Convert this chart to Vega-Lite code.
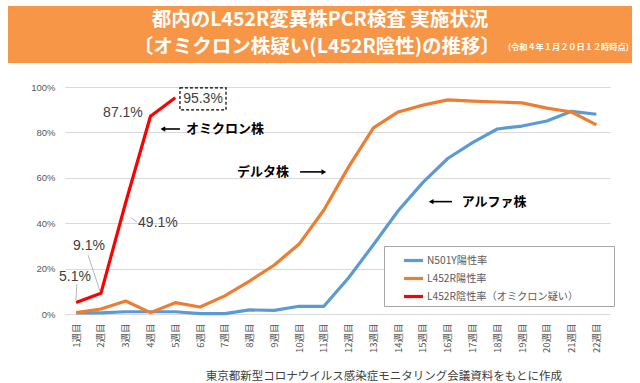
{
  "$schema": "https://vega.github.io/schema/vega-lite/v6.json",
  "padding": {"left": 8, "top": 5, "right": 0, "bottom": 0},
  "background": "white",
  "width": 545,
  "height": 227,
  "config": {
    "font": "Noto Sans CJK JP",
    "view": {"stroke": null},
    "axis": {"labelOverlap": false}
  },
  "title": {
    "text": "東京都新型コロナウイルス感染症モニタリング会議資料をもとに作成",
    "orient": "bottom",
    "anchor": "end",
    "frame": "group",
    "dx": -48,
    "offset": 18,
    "fontSize": 11.5,
    "fontWeight": "normal",
    "color": "#404040",
    "font": "Noto Sans CJK JP"
  },
  "datasets": {
    "banner": [{"week": -1.75, "week2": 23.44, "value": 135.7, "value2": 110.6}],
    "bannerText": [
      {"week": 10.845, "value": 129.5, "text": "都内のL452R変異株PCR検査 実施状況", "kind": "big"},
      {"week": 10.72, "value": 117.7, "text": "〔オミクロン株疑い(L452R陰性)の推移〕", "kind": "big"},
      {"week": 18.43, "value": 117.2, "text": "(令和４年１月２０日１２時時点)", "kind": "small"}
    ],
    "series": [
      {"week": 1, "series": "N501Y陽性率", "value": 0.5},
      {"week": 2, "series": "N501Y陽性率", "value": 0.5},
      {"week": 3, "series": "N501Y陽性率", "value": 1},
      {"week": 4, "series": "N501Y陽性率", "value": 1},
      {"week": 5, "series": "N501Y陽性率", "value": 1},
      {"week": 6, "series": "N501Y陽性率", "value": 0.2},
      {"week": 7, "series": "N501Y陽性率", "value": 0.2},
      {"week": 8, "series": "N501Y陽性率", "value": 1.8},
      {"week": 9, "series": "N501Y陽性率", "value": 1.6},
      {"week": 10, "series": "N501Y陽性率", "value": 3.4},
      {"week": 11, "series": "N501Y陽性率", "value": 3.4},
      {"week": 12, "series": "N501Y陽性率", "value": 16},
      {"week": 13, "series": "N501Y陽性率", "value": 30.5},
      {"week": 14, "series": "N501Y陽性率", "value": 45.5},
      {"week": 15, "series": "N501Y陽性率", "value": 58},
      {"week": 16, "series": "N501Y陽性率", "value": 68.5},
      {"week": 17, "series": "N501Y陽性率", "value": 75.5},
      {"week": 18, "series": "N501Y陽性率", "value": 81.5},
      {"week": 19, "series": "N501Y陽性率", "value": 82.8},
      {"week": 20, "series": "N501Y陽性率", "value": 85},
      {"week": 21, "series": "N501Y陽性率", "value": 89.3},
      {"week": 22, "series": "N501Y陽性率", "value": 88},
      {"week": 1, "series": "L452R陽性率", "value": 0.6},
      {"week": 2, "series": "L452R陽性率", "value": 2.2},
      {"week": 3, "series": "L452R陽性率", "value": 5.7},
      {"week": 4, "series": "L452R陽性率", "value": 0.6},
      {"week": 5, "series": "L452R陽性率", "value": 5},
      {"week": 6, "series": "L452R陽性率", "value": 3.1},
      {"week": 7, "series": "L452R陽性率", "value": 8},
      {"week": 8, "series": "L452R陽性率", "value": 14.5},
      {"week": 9, "series": "L452R陽性率", "value": 21.6},
      {"week": 10, "series": "L452R陽性率", "value": 30.8},
      {"week": 11, "series": "L452R陽性率", "value": 45.8},
      {"week": 12, "series": "L452R陽性率", "value": 64.8},
      {"week": 13, "series": "L452R陽性率", "value": 82},
      {"week": 14, "series": "L452R陽性率", "value": 89},
      {"week": 15, "series": "L452R陽性率", "value": 92},
      {"week": 16, "series": "L452R陽性率", "value": 94.3},
      {"week": 17, "series": "L452R陽性率", "value": 93.8},
      {"week": 18, "series": "L452R陽性率", "value": 93.4},
      {"week": 19, "series": "L452R陽性率", "value": 93},
      {"week": 20, "series": "L452R陽性率", "value": 90.7},
      {"week": 21, "series": "L452R陽性率", "value": 89},
      {"week": 22, "series": "L452R陽性率", "value": 83.3},
      {"week": 1, "series": "L452R陰性率（オミクロン疑い）", "value": 5.1},
      {"week": 2, "series": "L452R陰性率（オミクロン疑い）", "value": 9.1},
      {"week": 3, "series": "L452R陰性率（オミクロン疑い）", "value": 49.1},
      {"week": 4, "series": "L452R陰性率（オミクロン疑い）", "value": 87.1},
      {"week": 5, "series": "L452R陰性率（オミクロン疑い）", "value": 95.3}
    ],
    "valueLabels": [
      {"week": 0.95, "value": 16.3, "text": "5.1%"},
      {"week": 1.52, "value": 30.0, "text": "9.1%"},
      {"week": 4.3, "value": 40.1, "text": "49.1%"},
      {"week": 2.89, "value": 88.5, "text": "87.1%"},
      {"week": 6.12, "value": 94.7, "text": "95.3%"}
    ],
    "leaders": [
      {"week": 1.03, "value": 13.2, "week2": 0.99, "value2": 5.9},
      {"week": 1.48, "value": 26.0, "week2": 1.96, "value2": 10.1},
      {"week": 3.46, "value": 40.5, "week2": 3.2, "value2": 42.5}
    ],
    "box": [{"week": 5.19, "week2": 7.05, "value": 99.6, "value2": 89.9}],
    "strainLabels": [
      {"week": 7.01, "value": 81.5, "text": "オミクロン株"},
      {"week": 8.54, "value": 62.6, "text": "デルタ株"},
      {"week": 17.87, "value": 49.5, "text": "アルファ株"}
    ],
    "arrows": [
      {"week": 4.5, "week2": 5.19, "value": 81.5},
      {"week": 10.04, "week2": 11.0, "value": 62.6},
      {"week": 15.33, "week2": 16.17, "value": 49.5}
    ],
    "arrowHeads": [
      {"week": 4.5, "value": 81.5, "dir": "left"},
      {"week": 11.0, "value": 62.6, "dir": "right"},
      {"week": 15.33, "value": 49.5, "dir": "left"}
    ]
  },
  "encoding": {
    "x": {
      "field": "week", "type": "quantitative", "title": null,
      "scale": {"domain": [0.55, 22.55], "nice": false, "zero": false},
      "axis": {
        "values": [1, 2, 3, 4, 5, 6, 7, 8, 9, 10, 11, 12, 13, 14, 15, 16, 17, 18, 19, 20, 21, 22],
        "labelExpr": "datum.value + '週目'",
        "labelAngle": -90,
        "labelFontSize": 9.5,
        "labelColor": "#595959",
        "labelFont": "Noto Sans CJK JP",
        "labelPadding": 9,
        "labelOverlap": false,
        "labelFlush": false,
        "labelBound": false,
        "grid": false,
        "ticks": false,
        "domain": false
      }
    },
    "y": {
      "field": "value", "type": "quantitative", "title": null,
      "scale": {"domain": [0, 100], "nice": false},
      "axis": {
        "values": [0, 20, 40, 60, 80, 100],
        "labelExpr": "datum.value + '%'",
        "labelFontSize": 9.5,
        "labelColor": "#595959",
        "labelFont": "Liberation Sans",
        "labelPadding": 10,
        "grid": true,
        "gridColor": "#D9D9D9",
        "gridWidth": 1,
        "ticks": false,
        "domain": false
      }
    }
  },
  "layer": [
    {
      "data": {"name": "banner"},
      "mark": {"type": "rect", "fill": "#F79646", "stroke": null},
      "encoding": {"x2": {"field": "week2"}, "y2": {"field": "value2"}}
    },
    {
      "data": {"name": "bannerText"},
      "transform": [{"filter": "datum.kind === 'big'"}],
      "mark": {"type": "text", "color": "white", "fontWeight": "bold", "fontSize": 19.5, "align": "center", "baseline": "middle"},
      "encoding": {"text": {"field": "text"}}
    },
    {
      "data": {"name": "bannerText"},
      "transform": [{"filter": "datum.kind === 'small'"}],
      "mark": {"type": "text", "color": "white", "fontWeight": "bold", "fontSize": 8.2, "align": "left", "baseline": "middle"},
      "encoding": {"text": {"field": "text"}}
    },
    {
      "data": {"name": "series"},
      "mark": {"type": "line", "strokeCap": "butt", "strokeJoin": "round"},
      "encoding": {
        "color": {
          "field": "series", "type": "nominal",
          "scale": {
            "domain": ["N501Y陽性率", "L452R陽性率", "L452R陰性率（オミクロン疑い）"],
            "range": ["#5B9BD5", "#ED7D31", "#FF0000"]
          },
          "legend": {
            "title": " ",
            "titleOrient": "right",
            "titlePadding": 33,
            "titleFontSize": 1,
            "orient": "none",
            "legendX": 319,
            "legendY": 159,
            "padding": 3,
            "rowPadding": 0,
            "symbolType": "stroke",
            "symbolStrokeWidth": 4,
            "symbolSize": 360,
            "symbolOffset": 15,
            "labelOffset": 2,
            "labelFontSize": 10.2,
            "labelColor": "#595959",
            "labelFont": "Noto Sans CJK JP",
            "labelLimit": 400,
            "strokeColor": "#A6A6A6",
            "fillColor": "white",
            "cornerRadius": 0
          }
        },
        "strokeWidth": {
          "field": "series", "type": "nominal",
          "scale": {
            "domain": ["N501Y陽性率", "L452R陽性率", "L452R陰性率（オミクロン疑い）"],
            "range": [3.2, 3.2, 4.5]
          },
          "legend": null
        }
      }
    },
    {
      "data": {"name": "leaders"},
      "mark": {"type": "rule", "color": "#A6A6A6", "strokeWidth": 0.8},
      "encoding": {"x2": {"field": "week2"}, "y2": {"field": "value2"}}
    },
    {
      "data": {"name": "box"},
      "mark": {"type": "rect", "filled": false, "stroke": "#000000", "strokeWidth": 1.2, "strokeDash": [3, 2]},
      "encoding": {"x2": {"field": "week2"}, "y2": {"field": "value2"}}
    },
    {
      "data": {"name": "valueLabels"},
      "mark": {"type": "text", "font": "Liberation Sans", "fontSize": 14, "color": "#404040", "align": "center", "baseline": "middle"},
      "encoding": {"text": {"field": "text"}}
    },
    {
      "data": {"name": "arrows"},
      "mark": {"type": "rule", "color": "#000000", "strokeWidth": 1.6},
      "encoding": {"x2": {"field": "week2"}}
    },
    {
      "data": {"name": "arrowHeads"},
      "mark": {"type": "point", "filled": true, "color": "#000000", "opacity": 1, "size": 30},
      "encoding": {
        "shape": {
          "field": "dir", "type": "nominal",
          "scale": {"domain": ["left", "right"], "range": ["triangle-left", "triangle-right"]},
          "legend": null
        }
      }
    },
    {
      "data": {"name": "strainLabels"},
      "mark": {"type": "text", "font": "Noto Sans CJK JP", "fontSize": 13, "fontWeight": "bold", "color": "#000000", "align": "center", "baseline": "middle"},
      "encoding": {"text": {"field": "text"}}
    }
  ]
}
